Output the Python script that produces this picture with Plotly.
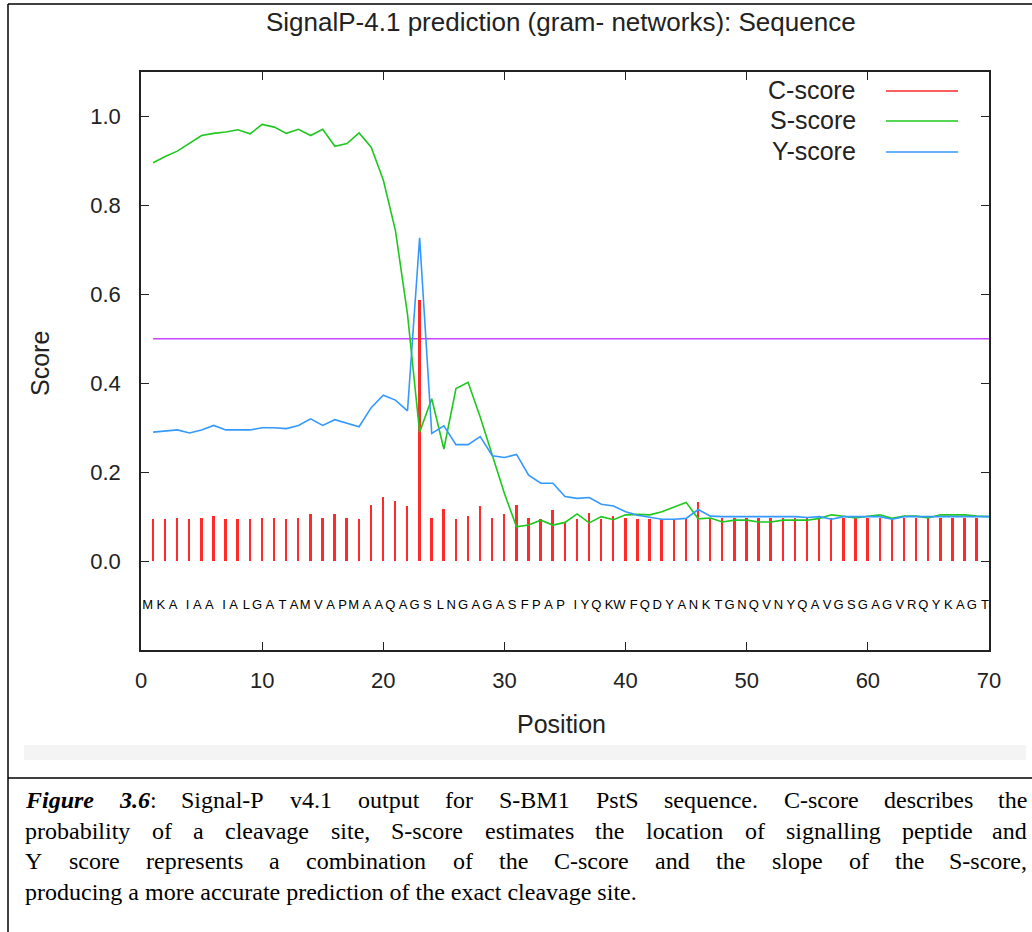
import plotly.graph_objects as go

# ---------------- data ----------------
sequence = list("MKAIAAIALGATAMVAPMAAQAGSLNGAGASFPAPIYQKWFQDYANKTGNQVNYQAVGSGAGVRQYKAGT")
positions = list(range(1, 71))

c_score = [0.094, 0.094, 0.097, 0.094, 0.097, 0.101, 0.094, 0.094, 0.094, 0.097,
           0.097, 0.094, 0.097, 0.105, 0.097, 0.105, 0.097, 0.094, 0.127, 0.145,
           0.136, 0.123, 0.587, 0.097, 0.118, 0.094, 0.101, 0.123, 0.097, 0.105,
           0.127, 0.097, 0.094, 0.115, 0.088, 0.094, 0.109, 0.094, 0.101, 0.097,
           0.094, 0.094, 0.094, 0.094, 0.094, 0.133, 0.097, 0.098, 0.098, 0.098,
           0.098, 0.098, 0.098, 0.098, 0.098, 0.098, 0.098, 0.098, 0.098, 0.098,
           0.098, 0.098, 0.098, 0.098, 0.098, 0.098, 0.098, 0.098, 0.098]
c_positions = list(range(1, len(c_score) + 1))

s_score = [0.896, 0.910, 0.922, 0.940, 0.957, 0.962, 0.965, 0.970, 0.961, 0.982,
           0.976, 0.962, 0.971, 0.957, 0.971, 0.933, 0.939, 0.963, 0.931, 0.857,
           0.744, 0.555, 0.290, 0.365, 0.252, 0.388, 0.402, 0.324, 0.238, 0.152,
           0.077, 0.081, 0.092, 0.081, 0.087, 0.106, 0.086, 0.100, 0.093, 0.104,
           0.105, 0.104, 0.111, 0.122, 0.132, 0.095, 0.097, 0.088, 0.092, 0.092,
           0.088, 0.088, 0.092, 0.092, 0.092, 0.096, 0.104, 0.101, 0.097, 0.101,
           0.104, 0.096, 0.101, 0.101, 0.097, 0.104, 0.104, 0.104, 0.101, 0.100]

y_score = [0.290, 0.292, 0.295, 0.288, 0.295, 0.305, 0.295, 0.295, 0.295, 0.300,
           0.300, 0.298, 0.305, 0.320, 0.305, 0.318, 0.310, 0.302, 0.345, 0.373,
           0.362, 0.338, 0.727, 0.287, 0.304, 0.262, 0.262, 0.280, 0.237, 0.233,
           0.240, 0.193, 0.175, 0.175, 0.145, 0.141, 0.143, 0.128, 0.124, 0.111,
           0.103, 0.098, 0.094, 0.094, 0.096, 0.116, 0.101, 0.100, 0.100, 0.100,
           0.100, 0.100, 0.100, 0.100, 0.098, 0.100, 0.094, 0.100, 0.100, 0.100,
           0.100, 0.094, 0.100, 0.100, 0.100, 0.100, 0.100, 0.100, 0.100, 0.100]

threshold = 0.5
seq_label_y = -0.1

x_ticks = [0, 10, 20, 30, 40, 50, 60, 70]
y_ticks = [0.0, 0.2, 0.4, 0.6, 0.8, 1.0]
y_tick_labels = ["0.0", "0.2", "0.4", "0.6", "0.8", "1.0"]

legend_names = ["C-score", "S-score", "Y-score"]

title_text = "SignalP-4.1 prediction (gram- networks): Sequence"
caption_lines = [
    "<b><i>Figure</i></b> <b><i>3.6</i></b>: Signal-P v4.1 output for S-BM1 PstS sequence. C-score describes the",
    "probability of a cleavage site, S-score estimates the location of signalling peptide and",
    "Y score represents a combination of the C-score and the slope of the S-score,",
    "producing a more accurate prediction of the exact cleavage site.",
]
caption_justified = [True, True, True, False]

# ---------------- styles ----------------
RED = "#ff2a2a"
GREEN = "#1ec81e"
BLUE = "#3399ff"
PURPLE = "#c844ff"
TXT = "#222222"
SANS = "Liberation Sans, Arial, sans-serif"
SERIF = "Liberation Serif, Times New Roman, serif"
CAP_SIZE = 24

W, H = 1032, 932
L, R, T, B = 141, 989, 72, 650


def px(x):
    return (x - L) / (R - L)


def py(y):
    return (B - y) / (B - T)


# Times metrics (per 1000 em) used to justify caption lines
_TR = {' ': 250, '!': 333, ',': 250, '-': 333, '.': 250, ':': 278, ';': 278,
       'A': 722, 'B': 667, 'C': 667, 'D': 722, 'E': 611, 'F': 556, 'G': 722, 'H': 722,
       'I': 333, 'J': 389, 'K': 722, 'L': 611, 'M': 889, 'N': 722, 'O': 722, 'P': 556,
       'Q': 722, 'R': 667, 'S': 556, 'T': 611, 'U': 722, 'V': 722, 'W': 944, 'X': 722,
       'Y': 722, 'Z': 611,
       'a': 444, 'b': 500, 'c': 444, 'd': 500, 'e': 444, 'f': 333, 'g': 500, 'h': 500,
       'i': 278, 'j': 278, 'k': 500, 'l': 278, 'm': 778, 'n': 500, 'o': 500, 'p': 500,
       'q': 500, 'r': 333, 's': 389, 't': 278, 'u': 500, 'v': 500, 'w': 722, 'x': 500,
       'y': 500, 'z': 444}
for d in "0123456789":
    _TR[d] = 500
_TBI = dict(_TR)
_TBI.update({'F': 667, 'i': 278, 'g': 500, 'u': 556, 'r': 389, 'e': 444})


def word_width(word, size):
    w = 0
    bi = False
    i = 0
    while i < len(word):
        if word.startswith("<b><i>", i):
            bi = True
            i += 6
            continue
        if word.startswith("</i></b>", i):
            bi = False
            i += 8
            continue
        ch = word[i]
        w += (_TBI if bi else _TR).get(ch, 500)
        i += 1
    return w * size / 1000.0


fig = go.Figure()

fig.add_trace(go.Bar(x=c_positions, y=c_score, width=0.16,
                     marker=dict(color=RED, line=dict(width=0)),
                     name=legend_names[0], showlegend=False))
fig.add_trace(go.Scatter(x=positions, y=s_score, mode="lines",
                         line=dict(color=GREEN, width=1.6),
                         name=legend_names[1], showlegend=False))
fig.add_trace(go.Scatter(x=positions, y=y_score, mode="lines",
                         line=dict(color=BLUE, width=1.6),
                         name=legend_names[2], showlegend=False))
fig.add_trace(go.Scatter(x=positions, y=[seq_label_y] * len(sequence), mode="text",
                         text=sequence, textposition="middle left",
                         textfont=dict(family=SANS, size=13, color="#000000"),
                         showlegend=False, hoverinfo="skip"))

shapes = []
shapes.append(dict(type="line", xref="x", yref="y", x0=positions[0], x1=positions[-1],
                   y0=threshold, y1=threshold, line=dict(color=PURPLE, width=1.5),
                   layer="below"))
legend_colors = [RED, GREEN, BLUE]
legend_y = [91, 121, 152]
annotations = []
for name, col, ly in zip(legend_names, legend_colors, legend_y):
    shapes.append(dict(type="line", xref="paper", yref="paper",
                       x0=px(886), x1=px(958), y0=py(ly), y1=py(ly),
                       line=dict(color=col, width=1.6)))
    annotations.append(dict(text=name, xref="paper", yref="paper", x=px(858), y=py(ly - 1),
                            xanchor="right", yanchor="middle", showarrow=False,
                            font=dict(family=SANS, size=25, color=TXT)))

shapes += [
    dict(type="line", xref="paper", yref="paper", x0=px(8), x1=px(1032), y0=py(4), y1=py(4),
         line=dict(color="#000", width=1.5)),
    dict(type="line", xref="paper", yref="paper", x0=px(8), x1=px(8), y0=py(4), y1=py(932),
         line=dict(color="#000", width=1.5)),
    dict(type="line", xref="paper", yref="paper", x0=px(8), x1=px(1032), y0=py(778), y1=py(778),
         line=dict(color="#000", width=1.5)),
    dict(type="rect", xref="paper", yref="paper", x0=px(24), x1=px(1026), y0=py(760), y1=py(745),
         fillcolor="#f4f4f4", line=dict(width=0), layer="below"),
]

annotations.append(dict(text=title_text, xref="paper", yref="paper", x=px(561), y=py(22),
                        xanchor="center", yanchor="middle", showarrow=False,
                        font=dict(family=SANS, size=26, color=TXT)))
annotations.append(dict(text="Position", xref="paper", yref="paper", x=px(561), y=py(724),
                        xanchor="center", yanchor="middle", showarrow=False,
                        font=dict(family=SANS, size=25, color=TXT)))
annotations.append(dict(text="Score", xref="paper", yref="paper", x=px(40), y=py(364),
                        xanchor="center", yanchor="middle", showarrow=False, textangle=-90,
                        font=dict(family=SANS, size=25, color=TXT)))

# caption (justified lines placed word by word)
cap_left, cap_right = 24, 1028
for i, (line, just) in enumerate(zip(caption_lines, caption_justified)):
    ypix = 800 + 30.5 * i
    cap_font = dict(family=SERIF, size=CAP_SIZE, color="#000")
    if not just:
        annotations.append(dict(text=line, xref="paper", yref="paper", x=px(cap_left - 1),
                                y=py(ypix), xanchor="left", yanchor="middle",
                                showarrow=False, font=cap_font))
        continue
    words = line.split(" ")
    widths = [word_width(w, CAP_SIZE) for w in words]
    gap = (cap_right - cap_left - sum(widths)) / (len(words) - 1)
    xcur = cap_left
    for k, (w, ww) in enumerate(zip(words, widths)):
        if k == len(words) - 1:
            annotations.append(dict(text=w, xref="paper", yref="paper", x=px(cap_right + 1),
                                    y=py(ypix), xanchor="right", yanchor="middle",
                                    showarrow=False, font=cap_font))
        else:
            annotations.append(dict(text=w, xref="paper", yref="paper", x=px(xcur - 1),
                                    y=py(ypix), xanchor="left", yanchor="middle",
                                    showarrow=False, font=cap_font))
        xcur += ww + gap

fig.update_layout(
    width=W, height=H, autosize=False,
    margin=dict(l=L, r=W - R, t=T, b=H - B, pad=0),
    paper_bgcolor="white", plot_bgcolor="white",
    shapes=shapes, annotations=annotations,
    bargap=0, showlegend=False,
    xaxis=dict(range=[0, 70], tickvals=x_ticks, ticks="inside", ticklen=8, tickwidth=1,
               tickcolor=TXT, showline=True, linecolor=TXT, linewidth=1.5, mirror="ticks",
               showgrid=False, zeroline=False, ticklabelstandoff=10,
               tickfont=dict(family=SANS, size=22, color=TXT)),
    yaxis=dict(range=[-0.2, 1.1], tickvals=y_ticks, ticktext=y_tick_labels, ticks="inside",
               ticklen=8, tickwidth=1, tickcolor=TXT, showline=True, linecolor=TXT,
               linewidth=1.5, mirror="ticks", showgrid=False, zeroline=False,
               ticklabelstandoff=14, tickfont=dict(family=SANS, size=22, color=TXT)),
)

fig.write_html("out.html")
